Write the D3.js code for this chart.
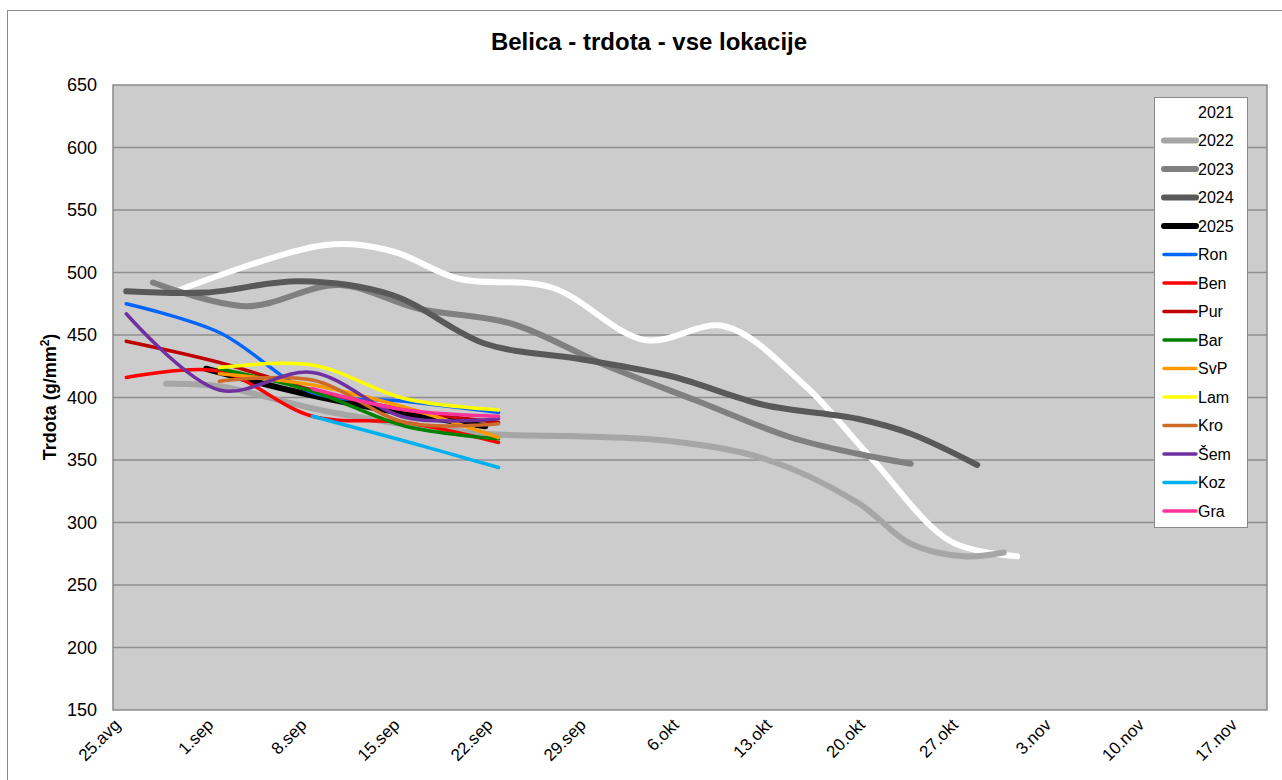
<!DOCTYPE html>
<html>
<head>
<meta charset="utf-8">
<script src="https://cdn.jsdelivr.net/npm/d3@7/dist/d3.min.js"></script>
<style>
  html, body { margin: 0; padding: 0; background: #ffffff; }
  svg { display: block; font-family: "Liberation Sans", Arial, sans-serif; }
</style>
</head>
<body>
<svg id="chart" width="1282" height="780"></svg>
<script>
// ---------------- DATA ----------------
const chartTitle = "Belica - trdota - vse lokacije";
const xTickLabels = ["25.avg","1.sep","8.sep","15.sep","22.sep","29.sep","6.okt","13.okt","20.okt","27.okt","3.nov","10.nov","17.nov"];
const yTicks = [150, 200, 250, 300, 350, 400, 450, 500, 550, 600, 650];

// year series (own dates)
const dates2021 = ["2025-08-30","2025-09-10","2025-09-15","2025-09-20","2025-09-27","2025-10-04","2025-10-10","2025-10-16","2025-10-21","2025-10-27","2025-11-01"];
const vals2021  = [486, 522, 517, 495, 488, 446, 457, 410, 352, 285, 273];

const dates2022 = ["2025-08-29","2025-09-02","2025-09-10","2025-09-22","2025-09-29","2025-10-06","2025-10-13","2025-10-20","2025-10-24","2025-10-28","2025-10-31"];
const vals2022  = [411, 409, 389, 371, 369, 365, 351, 316, 283, 273, 276];

const dates2023 = ["2025-08-28","2025-09-04","2025-09-11","2025-09-17","2025-09-24","2025-10-01","2025-10-08","2025-10-15","2025-10-20","2025-10-24"];
const vals2023  = [492, 473, 490, 471, 459, 426, 397, 368, 355, 347];

const dates2024 = ["2025-08-26","2025-09-01","2025-09-08","2025-09-15","2025-09-22","2025-09-29","2025-10-06","2025-10-13","2025-10-20","2025-10-24","2025-10-29"];
const vals2024  = [485, 484, 493, 482, 443, 431, 417, 394, 383, 371, 346];

const dates2025 = ["2025-09-01","2025-09-08","2025-09-15","2025-09-22"];
const vals2025  = [423, 404, 389, 377];

// location series (shared sampling dates)
const locDates = ["2025-08-26","2025-09-02","2025-09-09","2025-09-16","2025-09-23"];
const valsRon = [475, 452, 404, 397, 388];
const valsBen = [416, 421, 385, 380, 364];
const valsPur = [445, 428, 406, 390, 380];
const valsBar = [null, 423, 405, 377, 367];
const valsSvP = [null, 419, 410, 392, 368];
const valsLam = [null, 424, 426, 399, 390];
const valsKro = [null, 413, 414, 380, 379];
const valsSem = [467, 406, 420, 384, 383];
const valsKoz = [null, null, 385, 365, 344];
const valsGra = [null, null, 407, 390, 385];

const seriesNames = ["2021","2022","2023","2024","2025","Ron","Ben","Pur","Bar","SvP","Lam","Kro","Šem","Koz","Gra"];
const seriesColors = ["#ffffff","#a6a6a6","#808080","#595959","#000000","#0066ff","#ff0000","#c00000","#008000","#ff9900","#ffff00","#cc6a28","#7030a0","#00b0f0","#ff3399"];

// ---------------- BUILD ----------------
const parse = d3.timeParse("%Y-%m-%d");
function build(dates, vals) {
  return dates.map((d, i) => ({ date: parse(d), v: vals[i] })).filter(p => p.v != null);
}
const seriesData = [
  build(dates2021, vals2021),
  build(dates2022, vals2022),
  build(dates2023, vals2023),
  build(dates2024, vals2024),
  build(dates2025, vals2025),
  build(locDates, valsRon),
  build(locDates, valsBen),
  build(locDates, valsPur),
  build(locDates, valsBar),
  build(locDates, valsSvP),
  build(locDates, valsLam),
  build(locDates, valsKro),
  build(locDates, valsSem),
  build(locDates, valsKoz),
  build(locDates, valsGra)
];
const series = seriesNames.map((n, i) => ({
  name: n, color: seriesColors[i], data: seriesData[i], thick: i < 5
}));

const svg = d3.select("#chart");
const L = 113, T = 85, R = 1267, B = 710;

// outer chart border
svg.append("rect").attr("x", 7.5).attr("y", 10.5).attr("width", 1300).attr("height", 800)
  .attr("fill", "#ffffff").attr("stroke", "#8a8a8a").attr("stroke-width", 1);

// title
svg.append("text").attr("x", 649).attr("y", 50).attr("text-anchor", "middle")
  .style("font-family", "'Liberation Sans Narrow', 'Liberation Sans', Arial, sans-serif")
  .style("font-weight", "bold").style("font-size", "24px").attr("fill", "#000")
  .text(chartTitle);

const startDate = parse("2025-08-25");
const endDate = new Date(startDate.getTime() + 86.8 * 86400000);
const x = d3.scaleTime().domain([startDate, endDate]).range([L, R]);
const y = d3.scaleLinear().domain([150, 650]).range([B, T]);
const tickDates = xTickLabels.map((_, i) => d3.timeDay.offset(startDate, 7 * i));

// plot area
svg.append("rect").attr("x", L).attr("y", T).attr("width", R - L).attr("height", B - T)
  .attr("fill", "#cccccc");

// gridlines
svg.append("g").selectAll("line").data(yTicks.slice(1, -1)).join("line")
  .attr("x1", L).attr("x2", R).attr("y1", d => y(d)).attr("y2", d => y(d))
  .attr("stroke", "#8e8e8e").attr("stroke-width", 1.5);

svg.append("rect").attr("x", L).attr("y", T).attr("width", R - L).attr("height", B - T)
  .attr("fill", "none").attr("stroke", "#8a8a8a").attr("stroke-width", 1.5);

// y axis
const yAxis = svg.append("g").attr("transform", `translate(${L},0)`)
  .call(d3.axisLeft(y).tickValues(yTicks).tickSize(0).tickPadding(16).tickFormat(d3.format("d")));
yAxis.select(".domain").remove();
yAxis.selectAll("text").style("font-size", "18px").style("font-family", "'Liberation Sans', Arial, sans-serif").attr("fill", "#000");

// x axis
const xAxis = svg.append("g").attr("transform", `translate(0,${B})`)
  .call(d3.axisBottom(x).tickValues(tickDates).tickSize(0).tickFormat((d, i) => xTickLabels[i]));
xAxis.select(".domain").remove();
xAxis.selectAll("text")
  .style("font-size", "17px").style("font-family", "'Liberation Sans', Arial, sans-serif").attr("fill", "#000")
  .attr("text-anchor", "end").attr("y", 0).attr("dy", 0)
  .attr("transform", "translate(8,16) rotate(-45)");

// y axis title
const yt = svg.append("text").attr("transform", "translate(56,397) rotate(-90)")
  .attr("text-anchor", "middle").style("font-weight", "bold").style("font-size", "18px").attr("fill", "#000");
yt.append("tspan").text("Trdota (g/mm");
yt.append("tspan").text("2").style("font-size", "12px").attr("dy", -7);
yt.append("tspan").text(")").attr("dy", 7);

// lines
const line = d3.line().x(d => x(d.date)).y(d => y(d.v)).curve(d3.curveCatmullRom.alpha(0.5));
const clip = svg.append("clipPath").attr("id", "plotclip").append("rect")
  .attr("x", L).attr("y", T).attr("width", R - L).attr("height", B - T);
svg.append("g").attr("clip-path", "url(#plotclip)")
  .selectAll("path").data(series).join("path")
  .attr("d", s => line(s.data))
  .attr("fill", "none").attr("stroke", s => s.color)
  .attr("stroke-width", s => s.thick ? 6 : 3.5)
  .attr("stroke-linecap", "round").attr("stroke-linejoin", "round");

// legend
const lg = svg.append("g");
lg.append("rect").attr("x", 1154.5).attr("y", 97.5).attr("width", 93).attr("height", 430)
  .attr("fill", "#ffffff").attr("stroke", "#8a8a8a").attr("stroke-width", 1);
const items = lg.selectAll("g.item").data(series).join("g")
  .attr("transform", (d, i) => `translate(0,${112 + i * 28.5})`);
items.append("line").attr("x1", 1164).attr("x2", 1196).attr("y1", 0).attr("y2", 0)
  .attr("stroke", d => d.color).attr("stroke-width", d => d.thick ? 6 : 3.5).attr("stroke-linecap", "round");
items.append("text").attr("x", 1198).attr("y", 0).attr("dy", "0.35em")
  .style("font-size", "16px").attr("fill", "#000").text(d => d.name);
</script>
</body>
</html>
